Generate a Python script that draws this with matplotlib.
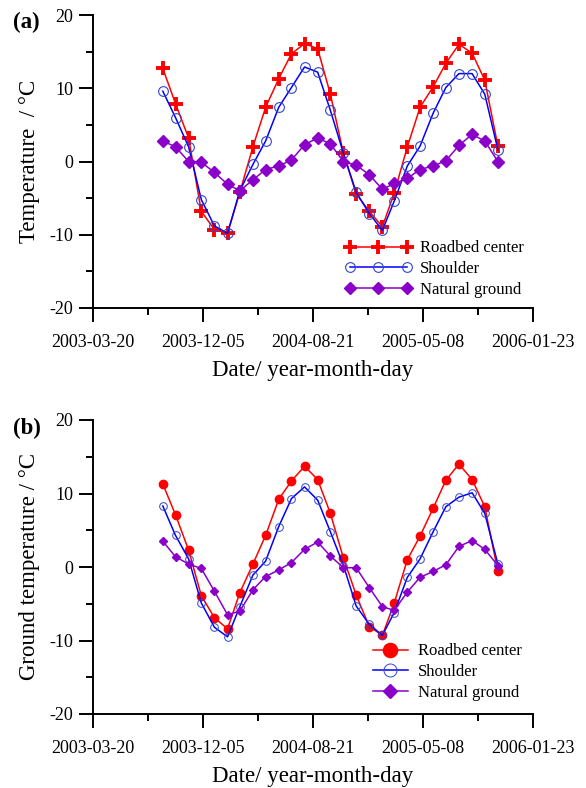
import matplotlib
matplotlib.use('Agg')
import matplotlib.pyplot as plt
import matplotlib.dates as mdates
import numpy as np
import datetime as dt

# monthly survey dates (1st of each month), Sep 2003 - Nov 2005
dates = [dt.date(2003 + (8 + k) // 12, (8 + k) % 12 + 1, 1) for k in range(27)]

# (a) temperature
road_a = [12.7, 7.9, 3.2, -6.8, -9.3, -9.8, -4.2, 2.0, 7.4, 11.3, 14.7, 16.1, 15.4, 9.2,
          1.1, -4.4, -6.8, -8.9, -4.3, 2.0, 7.4, 10.2, 13.4, 16.0, 14.8, 11.1, 2.1]
shoulder_a = [9.6, 6.0, 2.0, -5.2, -8.8, -9.8, -4.0, -0.4, 2.8, 7.4, 10.1, 12.9, 12.2, 7.0,
              1.1, -4.2, -7.1, -9.4, -5.4, -0.6, 2.1, 6.6, 10.1, 12.0, 12.0, 9.2, 1.6]
natural_a = [2.8, 2.0, 0.0, -0.1, -1.5, -3.1, -4.0, -2.5, -1.1, -0.6, 0.2, 2.3, 3.2, 2.4,
             0.0, -0.5, -1.8, -3.8, -3.0, -2.3, -1.1, -0.6, 0.1, 2.2, 3.7, 2.8, 0.0]

# (b) ground temperature
road_b = [11.3, 7.1, 2.3, -3.9, -6.9, -8.4, -3.5, 0.4, 4.3, 9.2, 11.7, 13.7, 11.9, 7.3,
          1.2, -3.8, -8.1, -9.3, -4.9, 1.0, 4.2, 8.0, 11.8, 14.0, 11.9, 8.2, -0.6]
shoulder_b = [8.3, 4.3, 1.1, -4.9, -8.2, -9.5, -5.4, -1.1, 0.8, 5.5, 9.3, 10.9, 9.1, 4.8,
              0.2, -5.3, -7.8, -9.3, -6.2, -1.4, 1.1, 4.8, 8.2, 9.5, 10.1, 7.3, 0.4]
natural_b = [3.5, 1.4, 0.4, -0.2, -3.3, -6.5, -6.0, -3.1, -1.3, -0.4, 0.6, 2.4, 3.4, 1.5,
             -0.1, -0.1, -2.8, -5.4, -5.9, -3.4, -1.4, -0.6, 0.3, 2.8, 3.6, 2.4, 0.2]

labels = ['Roadbed center', 'Shoulder', 'Natural ground']
x_ticks = ['2003-03-20', '2003-12-05', '2004-08-21', '2005-05-08', '2006-01-23']

#Colors
RED = '#FF0000'
BLUE = '#0000FF'
PURPLE = '#8A00C8'

f_size = 13
l_size = 16.5
matplotlib.rc('font', family='Liberation Serif', size=f_size)
matplotlib.rcParams['axes.unicode_minus'] = False


def style_axis(ax, ylabel):
    for s in ['top', 'right']:
        ax.spines[s].set_visible(False)
    ax.spines['left'].set_linewidth(1.4)
    ax.spines['bottom'].set_linewidth(1.4)
    ticks = [mdates.date2num(dt.datetime.strptime(t, '%Y-%m-%d')) for t in x_ticks]
    ax.set_xlim(ticks[0], ticks[-1])
    ax.set_xticks(ticks)
    ax.set_xticklabels(x_ticks)
    ax.set_xticks([(a + b) / 2 for a, b in zip(ticks[:-1], ticks[1:])], minor=True)
    ax.set_ylim(-20, 20)
    ax.set_yticks([-20, -10, 0, 10, 20])
    ax.set_yticks([-15, -5, 5, 15], minor=True)
    ax.tick_params(axis='both', which='major', direction='out', width=1.4, length=10,
                   labelsize=f_size)
    ax.tick_params(axis='y', which='major', pad=4)
    ax.tick_params(axis='x', which='major', pad=9)
    ax.tick_params(axis='both', which='minor', direction='out', width=1.4, length=5)
    ax.set_ylabel(ylabel, fontsize=l_size, labelpad=7)
    ax.set_xlabel('Date/ year-month-day', fontsize=l_size, labelpad=6)


fig = plt.figure(figsize=(5.86, 7.88), dpi=100)
ax1 = fig.add_axes([93 / 586, 1 - 308 / 788, 440 / 586, 293 / 788])
ax2 = fig.add_axes([93 / 586, 1 - 714 / 788, 440 / 586, 294 / 788])
x = mdates.date2num(dates)

##########################Plotting (a)###########################
ax1.plot(x, road_a, color=RED, lw=1.1, marker='+', ms=10.5, mew=2.8, label=labels[0])
ax1.plot(x, shoulder_a, color=BLUE, lw=1.1, marker='o', ms=7, mfc='none', mec='#3344CC',
         mew=0.8, label=labels[1])
ax1.plot(x, natural_a, color=PURPLE, lw=1.1, marker='D', ms=6, label=labels[2])
style_axis(ax1, 'Temperature  / \u00b0C')
ax1.legend(loc='lower left', bbox_to_anchor=(0.573, 0.035), frameon=False, numpoints=3,
           handlelength=4.0, handletextpad=0.5, labelspacing=0.28, borderpad=0,
           borderaxespad=0, fontsize=12)

##########################Plotting (b)###########################
ax2.plot(x, road_b, color=RED, lw=1.1, marker='o', ms=6, label=labels[0])
ax2.plot(x, shoulder_b, color=BLUE, lw=1.1, marker='o', ms=5.5, mfc='none', mec='#3344CC',
         mew=0.7, label=labels[1])
ax2.plot(x, natural_b, color=PURPLE, lw=1.1, marker='D', ms=4, label=labels[2])
style_axis(ax2, 'Ground temperature / \u00b0C')
ax2.legend(loc='lower left', bbox_to_anchor=(0.636, 0.045), frameon=False, numpoints=1,
           markerscale=1.7, handlelength=2.1, handletextpad=0.6, labelspacing=0.28,
           borderpad=0, borderaxespad=0, fontsize=12)

fig.text(13 / 586, 1 - 22 / 788, '(a)', fontsize=16.5, fontweight='bold', va='center')
fig.text(13 / 586, 1 - 428 / 788, '(b)', fontsize=16.5, fontweight='bold', va='center')

fig.savefig('out.png', dpi=100)
